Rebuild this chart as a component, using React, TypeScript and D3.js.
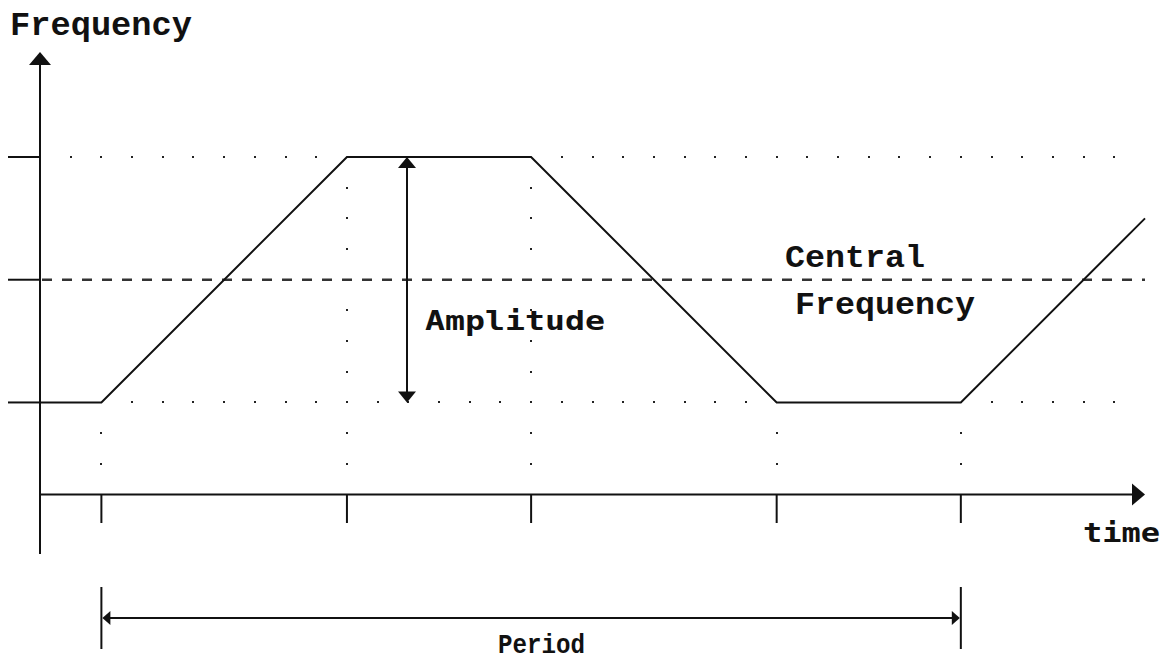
import * as d3 from 'd3'
import { useEffect, useRef } from 'react'

const WIDTH = 1165
const HEIGHT = 662

// corners of the frequency sweep, in grid units (time, level)
const waveTimes = [0, 2, 10, 16, 24, 30, 36]
const waveLevels = [0, 0, 8, 8, 0, 0, 6]

// tick marks under the time axis and on the frequency axis
const timeMarks = [2, 10, 16, 24, 30]
const levelMarks = [0, 4, 8]
const centralLevel = 4

// one period goes from the first to the last time mark
const periodStart = 2
const periodEnd = 30

const INK = '#111'
const DOT = '#222'

export default function App() {
  const ref = useRef<SVGSVGElement>(null)

  useEffect(() => {
    drawSweep(ref.current)
  }, [])

  return (
    <svg
      ref={ref}
      width={WIDTH}
      height={HEIGHT}
      style={{ position: 'absolute', left: 0, top: 0, background: '#fff' }}
    />
  )
}

const drawSweep = (node: SVGSVGElement | null) => {
  if (!node) return
  const svg = d3.select(node)
  svg.selectAll('*').remove()

  const x = d3.scaleLinear().domain([0, 36]).range([40, 1145])
  const y = d3.scaleLinear().domain([-3, 8]).range([494.5, 157])

  const low = d3.min(waveLevels) as number
  const high = d3.max(waveLevels) as number
  const lastT = d3.max(waveTimes) as number

  // dotted guide grid
  const dots: [number, number][] = []
  const onWave = (t: number, v: number) =>
    waveTimes.some((wt, i) => {
      if (i === 0) return false
      const t0 = waveTimes[i - 1], v0 = waveLevels[i - 1], v1 = waveLevels[i]
      return t >= t0 && t <= wt && v0 === v1 && v0 === v
    })
  d3.range(1, lastT).forEach(t => {
    if (!onWave(t, high)) dots.push([t, high])
    if (!onWave(t, low)) dots.push([t, low])
  })
  timeMarks.forEach(t => {
    const atHigh = waveTimes.some((wt, i) => wt === t && waveLevels[i] === high)
    const levels = atHigh
      ? d3.range(low - 2, high).filter(v => v !== centralLevel && v !== low)
      : [low - 1, low - 2]
    levels.forEach(v => dots.push([t, v]))
  })

  svg.append('g')
    .selectAll('rect')
    .data(dots)
    .join('rect')
    .attr('x', d => Math.round(x(d[0])) - 1)
    .attr('y', d => Math.round(y(d[1])) - 1)
    .attr('width', 2)
    .attr('height', 2)
    .attr('fill', DOT)

  // central frequency, dashed
  svg.append('line')
    .attr('x1', x(0) + 2).attr('x2', x(lastT))
    .attr('y1', y(centralLevel)).attr('y2', y(centralLevel))
    .attr('stroke', '#333')
    .attr('stroke-width', 2.5)
    .attr('stroke-dasharray', '10 10')

  // the sweep itself
  const line = d3.line<number>()
    .x(d => x(waveTimes[d]))
    .y(d => y(waveLevels[d]))
  svg.append('path')
    .attr('d', line(d3.range(waveTimes.length)))
    .attr('fill', 'none')
    .attr('stroke', INK)
    .attr('stroke-width', 2)
    .attr('stroke-linejoin', 'miter')

  // axes
  const axisG = svg.append('g').attr('stroke', INK).attr('stroke-width', 2)
  axisG.append('line')
    .attr('x1', x(0)).attr('x2', x(0))
    .attr('y1', 62).attr('y2', 554)
  axisG.append('line')
    .attr('x1', x(0)).attr('x2', x(lastT) - 10)
    .attr('y1', y(-3)).attr('y2', y(-3))
  axisG.selectAll('.ytick')
    .data(levelMarks)
    .join('line')
    .attr('class', 'ytick')
    .attr('x1', 8).attr('x2', x(0))
    .attr('y1', d => y(d)).attr('y2', d => y(d))
  axisG.selectAll('.xtick')
    .data(timeMarks)
    .join('line')
    .attr('class', 'xtick')
    .attr('x1', d => x(d)).attr('x2', d => x(d))
    .attr('y1', y(-3)).attr('y2', 523)

  const tri = (pts: [number, number][]) =>
    svg.append('path')
      .attr('d', 'M' + pts.map(p => p.join(',')).join('L') + 'Z')
      .attr('fill', INK)

  // axis arrow heads
  tri([[x(0), 52], [x(0) - 11, 65], [x(0) + 11, 65]])
  tri([[x(lastT), y(-3)], [x(lastT) - 13, y(-3) - 11], [x(lastT) - 13, y(-3) + 11]])

  // amplitude arrow
  const ax = 407
  svg.append('line')
    .attr('x1', ax).attr('x2', ax)
    .attr('y1', y(high) + 8).attr('y2', y(low) - 8)
    .attr('stroke', INK).attr('stroke-width', 2)
  tri([[ax, y(high)], [ax - 9, y(high) + 11], [ax + 9, y(high) + 11]])
  tri([[ax, y(low)], [ax - 9, y(low) - 11], [ax + 9, y(low) - 11]])

  // period arrow
  const py = 618
  svg.append('g')
    .attr('stroke', INK).attr('stroke-width', 2)
    .selectAll('line')
    .data([periodStart, periodEnd])
    .join('line')
    .attr('x1', d => x(d)).attr('x2', d => x(d))
    .attr('y1', 587).attr('y2', 649)
  svg.append('line')
    .attr('x1', x(periodStart) + 6).attr('x2', x(periodEnd) - 6)
    .attr('y1', py).attr('y2', py)
    .attr('stroke', INK).attr('stroke-width', 2)
  tri([[x(periodStart) + 1, py], [x(periodStart) + 9, py - 7], [x(periodStart) + 9, py + 7]])
  tri([[x(periodEnd) - 1, py], [x(periodEnd) - 9, py - 7], [x(periodEnd) - 9, py + 7]])

  // labels
  const serif = "'Liberation Mono', 'Courier New', monospace"
  const sans = "'DejaVu Sans Mono', monospace"
  const label = (text: string, lx: number, ly: number, w: number, size: number, family: string) =>
    svg.append('text')
      .attr('x', lx).attr('y', ly)
      .attr('textLength', w)
      .attr('lengthAdjust', 'spacingAndGlyphs')
      .attr('font-family', family)
      .attr('font-weight', 'bold')
      .attr('font-size', size)
      .attr('fill', INK)
      .text(text)

  label('Frequency', 10, 35, 182, 33, serif)
  label('Central', 785, 267, 140, 31, serif)
  label('Frequency', 795, 314, 180, 31, serif)
  label('Amplitude', 425, 330, 180, 27, sans)
  label('time', 1083, 542, 77, 26, sans)
  label('Period', 498, 653, 87, 27, serif)
}
